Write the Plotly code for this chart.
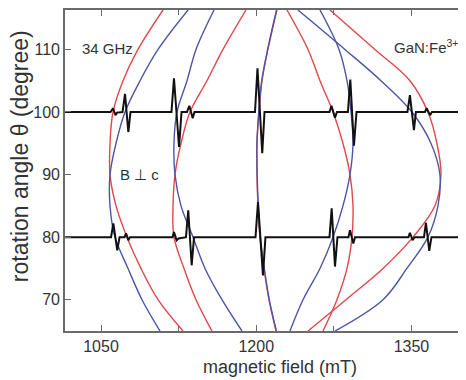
import plotly.graph_objects as go

# rotation angles (degree) at which the simulated line positions are read
angles = [116.3, 110, 105, 100, 95, 90, 85, 80, 75, 70, 65]

# simulated resonance fields (mT) – red and blue branches
red_A = [1109.9, 1085.7, 1071.3, 1061.6, 1058.7, 1058.7, 1064.5, 1075.1, 1088.6, 1105.1, 1129.2]
blue_A = [1134.1, 1105.1, 1087.7, 1073.2, 1064.5, 1058.7, 1058.7, 1063.5, 1076.1, 1089.6, 1107.0]
red_B = [1190.1, 1167.9, 1152.4, 1136.0, 1127.3, 1121.5, 1119.6, 1120.5, 1130.2, 1141.8, 1157.2]
blue_B = [1159.2, 1141.8, 1133.1, 1123.4, 1120.5, 1121.5, 1127.3, 1138.9, 1150.5, 1166.9, 1186.2]
red_C = [1220.0, 1211.3, 1205.6, 1202.7, 1200.7, 1200.7, 1201.7, 1203.6, 1207.5, 1212.3, 1219.1]
blue_C = [1219.6, 1211.0, 1205.3, 1202.4, 1200.7, 1200.9, 1202.0, 1203.9, 1207.8, 1212.6, 1219.5]
red_D = [1229.7, 1250.0, 1261.6, 1274.2, 1283.8, 1290.6, 1293.5, 1292.5, 1287.7, 1278.0, 1264.5]
blue_D = [1261.6, 1280.0, 1287.7, 1291.6, 1293.5, 1290.6, 1283.8, 1274.2, 1261.6, 1245.2, 1232.6]
red_E = [1271.3, 1314.7, 1348.5, 1365.9, 1374.6, 1378.5, 1372.7, 1351.5, 1322.5, 1286.7, 1250.0]
blue_E = [1240.3, 1285.7, 1320.5, 1350.5, 1368.8, 1377.5, 1375.6, 1365.9, 1345.6, 1322.5, 1276.1]

# measured EPR spectra (field in mT, signal in degree-units above the baseline angle)
spec100_angle = 100
spec100_field = [1015.2, 1059.2, 1061.6, 1064.0, 1065.5, 1070.8, 1073.2, 1076.4, 1078.5,
                 1118.1, 1120.5, 1125.4, 1127.8, 1133.1, 1135.3, 1138.6, 1140.3,
                 1198.8, 1201.2, 1205.8, 1208.0,
                 1270.8, 1272.7, 1276.1, 1278.0, 1288.6, 1290.9, 1294.4, 1296.9,
                 1346.1, 1348.5, 1352.4, 1354.3, 1363.0, 1364.7, 1367.9, 1369.8, 1402.7]
spec100_signal = [0, 0, 0.6, -0.5, -0.1, 0, 2.9, -3.2, 0,
                  0, 5.4, -5.6, 0, 0, 1.0, -1.0, 0,
                  0, 7.0, -6.6, 0,
                  0, 1.0, -0.9, 0, 0, 5.2, -5.4, 0,
                  0, 2.7, -2.9, 0, 0, 0.6, -0.5, 0, 0]

spec80_angle = 80
spec80_field = [1015.2, 1059.7, 1061.9, 1065.7, 1067.9, 1072.7, 1074.2, 1076.4, 1078.0,
                1119.1, 1120.5, 1123.1, 1124.9, 1132.1, 1134.3, 1137.6, 1139.9,
                1199.3, 1201.7, 1206.5, 1208.9,
                1270.8, 1272.9, 1276.1, 1278.5, 1289.1, 1290.6, 1293.8, 1295.4,
                1347.1, 1348.5, 1351.1, 1352.9, 1362.1, 1364.0, 1367.2, 1369.3, 1402.7]
spec80_signal = [0, 0, 2.2, -2.1, 0, 0, 0.6, -0.5, 0,
                 0, 0.8, -0.5, -0.2, 0, 4.3, -4.5, 0,
                 0, 5.6, -6.1, 0,
                 0, 4.6, -4.7, 0, 0, 1.1, -1.0, 0,
                 0, 0.7, -0.5, 0, 0, 2.3, -2.2, 0, 0]

x_ticks = [1050, 1200, 1350]
y_ticks = [70, 80, 90, 100, 110]
x_range = [1015.2, 1402.7]
y_range = [65, 116.3]

RED = "#e2474a"
BLUE = "#4b57a6"
FONT = "Liberation Sans, Arial, sans-serif"
TXT = "#333333"
AX = "#6a6a6a"

fig = go.Figure()
for series in [red_A, red_B, red_C, red_D, red_E]:
    fig.add_trace(go.Scatter(x=series, y=angles, mode="lines",
                             line=dict(color=RED, width=1.4, shape="spline"),
                             showlegend=False, hoverinfo="skip"))
for series in [blue_A, blue_B, blue_C, blue_D, blue_E]:
    fig.add_trace(go.Scatter(x=series, y=angles, mode="lines",
                             line=dict(color=BLUE, width=1.4, shape="spline"),
                             showlegend=False, hoverinfo="skip"))

for base, fld, sig in [(spec100_angle, spec100_field, spec100_signal),
                       (spec80_angle, spec80_field, spec80_signal)]:
    fig.add_trace(go.Scatter(x=fld, y=[base + s for s in sig], mode="lines",
                             line=dict(color="#111111", width=2),
                             showlegend=False, hoverinfo="skip"))

# helper trace so that the right-hand tick axis is drawn
fig.add_trace(go.Scatter(x=[x_range[0]], y=[y_range[0]], yaxis="y2", mode="markers",
                         marker=dict(opacity=0), showlegend=False, hoverinfo="skip"))

# the page body adds an 8 px offset, so the figure is 8 px smaller than the window
fig.update_layout(
    width=458, height=372,
    margin=dict(l=57, r=0, t=2, b=49),
    paper_bgcolor="white", plot_bgcolor="white",
    font=dict(family=FONT, color=TXT, size=16),
    xaxis=dict(range=x_range, tickvals=x_ticks, ticks="inside", ticklen=6, tickwidth=1.3,
               tickcolor=AX, showline=True, linecolor=AX, linewidth=1.6, mirror="ticks",
               showgrid=False, zeroline=False, tickfont=dict(size=16, color=TXT),
               minor=dict(tickvals=[1125, 1275], ticks="inside", ticklen=5, tickcolor=AX)),
    yaxis=dict(range=y_range, tickvals=y_ticks, ticks="inside", ticklen=6, tickwidth=1.3,
               tickcolor=AX, showline=True, linecolor=AX, linewidth=1.6,
               showgrid=False, zeroline=False, tickfont=dict(size=16, color=TXT)),
    yaxis2=dict(range=y_range, tickvals=y_ticks, overlaying="y", side="right",
                ticks="inside", ticklen=6, tickwidth=1.3, tickcolor=AX,
                showticklabels=False, showline=False, showgrid=False, zeroline=False),
    annotations=[
        dict(text="34 GHz", x=0.105, y=0.879, xref="paper", yref="paper",
             xanchor="center", yanchor="middle",
             showarrow=False, font=dict(size=15, color=TXT)),
        dict(text="B \u22a5 c", x=0.187, y=0.489, xref="paper", yref="paper",
             xanchor="center", yanchor="middle",
             showarrow=False, font=dict(size=15, color=TXT)),
        dict(text="GaN:Fe<sup>3+</sup>", x=0.815, y=0.885, xref="paper", yref="paper",
             xanchor="left", yanchor="middle", showarrow=False,
             font=dict(size=15, color=TXT)),
        dict(text="magnetic field (mT)", x=0.536, y=-0.112, xref="paper", yref="paper",
             xanchor="center", yanchor="middle",
             showarrow=False, font=dict(size=18, color=TXT)),
        dict(text="rotation angle \u03b8 (degree)", x=-0.112, y=0.545, xref="paper",
             yref="paper", xanchor="center", yanchor="middle", textangle=-90,
             showarrow=False, font=dict(size=23, color=TXT)),
    ],
)

fig.write_html("out.html")
